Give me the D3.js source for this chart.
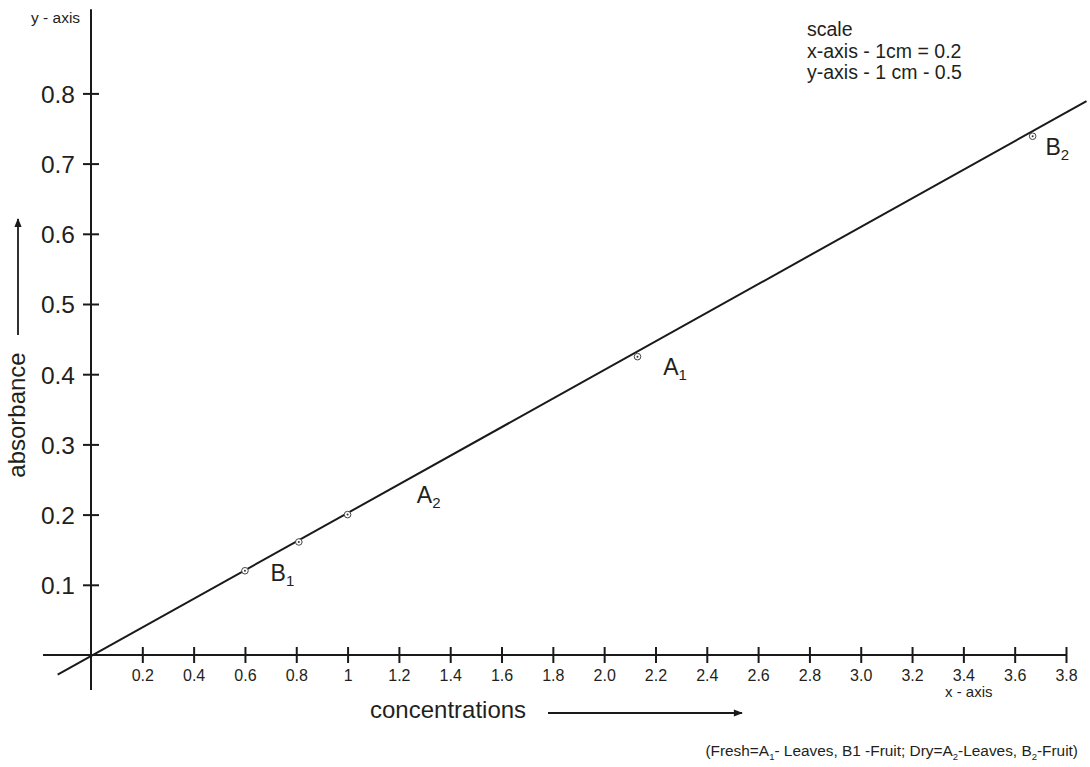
<!DOCTYPE html>
<html>
<head>
<meta charset="utf-8">
<script src="https://cdn.jsdelivr.net/npm/d3@7"></script>
<style>
  body { margin: 0; background: #fff; }
  svg { display: block; font-family: "Liberation Sans", Arial, sans-serif; }
  text { fill: #231f20; }
</style>
</head>
<body>
<svg id="chart" width="1090" height="767"></svg>
<script>
// Data
const xTicks = [0.2, 0.4, 0.6, 0.8, 1, 1.2, 1.4, 1.6, 1.8, 2.0, 2.2, 2.4, 2.6, 2.8, 3.0, 3.2, 3.4, 3.6, 3.8];
const xTickLabels = ['0.2', '0.4', '0.6', '0.8', '1', '1.2', '1.4', '1.6', '1.8', '2.0', '2.2', '2.4', '2.6', '2.8', '3.0', '3.2', '3.4', '3.6', '3.8'];
const yTicks = [0.1, 0.2, 0.3, 0.4, 0.5, 0.6, 0.7, 0.8];
const yTickLabels = ['0.1', '0.2', '0.3', '0.4', '0.5', '0.6', '0.7', '0.8'];

// measured points (concentration, absorbance)
const pointX = [0.6, 0.81, 1.0, 2.13, 3.67];
const pointY = [0.12, 0.161, 0.2, 0.425, 0.739];

// fitted line end points
const lineX = [-0.13, 3.88];
const lineY = [-0.028, 0.789];

// point labels: [letter, subscript, x, y]
const pointLabels = [
    ['B', '1', 0.7, 0.105],
    ['A', '2', 1.27, 0.217],
    ['A', '1', 2.23, 0.399],
    ['B', '2', 3.72, 0.712]
];

const svg = d3.select('#chart');

// Scales
const x = d3.scaleLinear().domain([0, 3.8]).range([91, 1066]);
const y = d3.scaleLinear().domain([0, 0.8]).range([655, 93.4]);

const ink = '#1a1a1a';
const fontFamily = '"Liberation Sans", Arial, sans-serif';

// Axis lines (extend past the origin)
svg.append('line')
    .attr('x1', x(-0.187)).attr('x2', x(3.8))
    .attr('y1', y(0)).attr('y2', y(0))
    .attr('stroke', ink).attr('stroke-width', 2);
svg.append('line')
    .attr('x1', x(0)).attr('x2', x(0))
    .attr('y1', y(0.92)).attr('y2', y(-0.05))
    .attr('stroke', ink).attr('stroke-width', 2);

// X axis ticks
const xAxis = svg.append('g')
    .attr('transform', `translate(0,${y(0)})`)
    .call(d3.axisBottom(x).tickValues(xTicks).tickSize(8).tickFormat((d, i) => xTickLabels[i]));
xAxis.select('.domain').remove();
xAxis.selectAll('.tick line').attr('y1', -8).attr('y2', 8).attr('stroke', ink).attr('stroke-width', 2);
xAxis.selectAll('.tick text')
    .attr('y', 25.5).attr('dy', 0)
    .style('font-size', '16px').style('font-family', fontFamily)
    .attr('fill', '#231f20');

// Y axis ticks
const yAxis = svg.append('g')
    .attr('transform', `translate(${x(0)},0)`)
    .call(d3.axisLeft(y).tickValues(yTicks).tickSize(8).tickFormat((d, i) => yTickLabels[i]));
yAxis.select('.domain').remove();
yAxis.selectAll('.tick line').attr('x1', -8).attr('x2', 8).attr('stroke', ink).attr('stroke-width', 2);
yAxis.selectAll('.tick text')
    .attr('x', -16).attr('dy', '0.36em')
    .style('font-size', '24.5px').style('font-family', fontFamily)
    .attr('fill', '#231f20');

// Regression line
const line = d3.line().x(d => x(d[0])).y(d => y(d[1]));
svg.append('path')
    .datum(d3.zip(lineX, lineY))
    .attr('d', line)
    .attr('fill', 'none')
    .attr('stroke', ink)
    .attr('stroke-width', 2);

// Points: small ring with a dot
const pts = svg.append('g').selectAll('g')
    .data(d3.zip(pointX, pointY))
    .join('g')
    .attr('transform', d => `translate(${x(d[0])},${y(d[1])})`);
pts.append('circle').attr('r', 3.3).attr('fill', '#fff').attr('stroke', '#444').attr('stroke-width', 1);
pts.append('circle').attr('r', 1).attr('fill', '#333');

// Point labels
const lbl = svg.append('g').selectAll('text')
    .data(pointLabels)
    .join('text')
    .attr('x', d => x(d[2]))
    .attr('y', d => y(d[3]))
    .style('font-size', '23px');
lbl.append('tspan').text(d => d[0]);
lbl.append('tspan').attr('dy', 5).style('font-size', '15px').text(d => d[1]);

// Axis captions
svg.append('text').attr('x', 31).attr('y', 23).style('font-size', '15.5px').text('y - axis');
svg.append('text').attr('x', 945).attr('y', 697).style('font-size', '15px').text('x - axis');

svg.append('text').attr('x', 370).attr('y', 718).style('font-size', '24px').text('concentrations');

svg.append('text')
    .attr('transform', 'translate(25,415) rotate(-90)')
    .attr('text-anchor', 'middle')
    .style('font-size', '24px')
    .text('absorbance');

// Arrows
const defs = svg.append('defs');
defs.append('marker')
    .attr('id', 'arrow')
    .attr('viewBox', '0 0 10 10')
    .attr('refX', 9).attr('refY', 5)
    .attr('markerWidth', 10).attr('markerHeight', 9)
    .attr('markerUnits', 'userSpaceOnUse')
    .attr('orient', 'auto')
    .append('path').attr('d', 'M0,1 L10,5 L0,9 Z').attr('fill', ink);

svg.append('line')
    .attr('x1', 548).attr('y1', 713).attr('x2', 742).attr('y2', 713)
    .attr('stroke', ink).attr('stroke-width', 1.8)
    .attr('marker-end', 'url(#arrow)');
svg.append('line')
    .attr('x1', 18).attr('y1', 335).attr('x2', 18).attr('y2', 219)
    .attr('stroke', ink).attr('stroke-width', 1.8)
    .attr('marker-end', 'url(#arrow)');

// Scale note
const scaleLines = ['scale', 'x-axis - 1cm = 0.2', 'y-axis - 1 cm - 0.5'];
svg.append('g').selectAll('text')
    .data(scaleLines)
    .join('text')
    .attr('x', 807)
    .attr('y', (d, i) => 36 + i * 21.5)
    .style('font-size', '19.5px')
    .text(d => d);

// Footnote
const foot = svg.append('text')
    .attr('x', 1078).attr('y', 756)
    .attr('text-anchor', 'end')
    .style('font-size', '15.4px');
const footParts = [
    ['(Fresh=A', false], ['1', true], ['- Leaves, B1 -Fruit; Dry=A', false], ['2', true],
    ['-Leaves, B', false], ['2', true], ['-Fruit)', false]
];
footParts.forEach(([t, sub], i) => {
    const s = foot.append('tspan').text(t);
    if (sub) s.attr('dy', 4).style('font-size', '9.5px');
    else if (i > 0) s.attr('dy', -4);
});
</script>
</body>
</html>
